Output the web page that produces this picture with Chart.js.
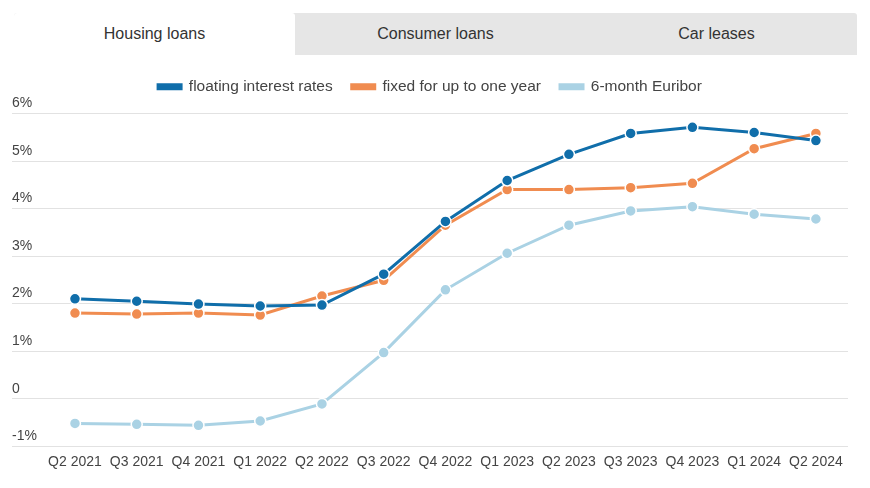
<!DOCTYPE html>
<html>
<head>
<meta charset="utf-8">
<script src="https://cdn.jsdelivr.net/npm/chart.js@4.4.1/dist/chart.umd.min.js"></script>
<style>
    html, body { margin: 0; padding: 0; background: #fff; }
    body { width: 870px; height: 488px; position: relative; overflow: hidden; font-family: "Liberation Sans", Arial, sans-serif; }
    .tabs { position: absolute; left: 14px; top: 13px; width: 843px; height: 42px; background: #e6e6e6; display: flex; z-index: 2; border-radius: 3px 3px 0 0; }
    .tab { width: 281px; line-height: 42px; text-align: center; font-size: 16px; color: #333; }
    .tab.active { background: #fff; border-radius: 3px 3px 0 0; }
    #wrap { position: absolute; left: 0; top: 0; width: 870px; height: 488px; }
</style>
</head>
<body>
<div class="tabs">
    <div class="tab active">Housing loans</div>
    <div class="tab">Consumer loans</div>
    <div class="tab">Car leases</div>
</div>
<div id="wrap"><canvas id="rateChart"></canvas></div>
<script>
// Quarters on the x axis
const quarters = ['Q2 2021', 'Q3 2021', 'Q4 2021', 'Q1 2022', 'Q2 2022', 'Q3 2022', 'Q4 2022',
    'Q1 2023', 'Q2 2023', 'Q3 2023', 'Q4 2023', 'Q1 2024', 'Q2 2024'];

// Interest rates, %
const floatingRates = [2.10, 2.05, 1.99, 1.95, 1.97, 2.62, 3.73, 4.59, 5.14, 5.58, 5.71, 5.60, 5.43];
const fixedOneYear = [1.80, 1.78, 1.80, 1.76, 2.16, 2.49, 3.65, 4.40, 4.40, 4.44, 4.53, 5.26, 5.58];
const euribor6m = [-0.52, -0.54, -0.56, -0.47, -0.11, 0.97, 2.29, 3.06, 3.65, 3.95, 4.04, 3.88, 3.78];

const yTicks = [-1, 0, 1, 2, 3, 4, 5, 6];

const toPoints = vals => vals.map((v, i) => ({ x: i, y: v }));

const lineSet = (label, vals, color) => ({
    label: label,
    data: toPoints(vals),
    borderColor: color,
    backgroundColor: color,
    borderWidth: 3,
    pointRadius: 5.5,
    pointBorderColor: '#fff',
    pointBorderWidth: 1.5,
    pointBackgroundColor: color,
    tension: 0
});

// extra space between legend and plot
const legendGap = {
    id: 'legendGap',
    beforeInit(chart) {
        const fit = chart.legend.fit;
        chart.legend.fit = function () {
            fit.bind(chart.legend)();
            this.height += 9;
        };
    }
};

const canvas = document.getElementById('rateChart');
new Chart(canvas.getContext('2d'), {
    type: 'line',
    data: {
        datasets: [
            lineSet('floating interest rates', floatingRates, '#106eaa'),
            lineSet('fixed for up to one year', fixedOneYear, '#f08c50'),
            lineSet('6-month Euribor', euribor6m, '#aad2e4')
        ]
    },
    plugins: [legendGap],
    options: {
        responsive: true,
        maintainAspectRatio: false,
        animation: false,
        layout: { padding: { left: 12, right: 22, top: 60, bottom: 17 } },
        plugins: {
            tooltip: { enabled: false },
            legend: {
                position: 'top',
                labels: {
                    boxWidth: 23,
                    boxHeight: 4,
                    padding: 19,
                    color: '#444',
                    font: { family: '"Liberation Sans", Arial, sans-serif', size: 15.5 }
                }
            }
        },
        scales: {
            x: {
                type: 'linear',
                min: -1.02,
                max: 12.52,
                grid: { display: false },
                border: { display: false },
                afterBuildTicks: scale => { scale.ticks = quarters.map((q, i) => ({ value: i })); },
                ticks: {
                    autoSkip: false,
                    maxRotation: 0,
                    padding: 0,
                    color: '#444',
                    font: { family: '"Liberation Sans", Arial, sans-serif', size: 14 },
                    callback: v => quarters[v]
                }
            },
            y: {
                min: -1,
                max: 6,
                afterBuildTicks: scale => { scale.ticks = yTicks.map(v => ({ value: v })); },
                grid: { color: '#e2e2e2', lineWidth: 1, drawTicks: false },
                border: { display: false },
                ticks: {
                    mirror: true,
                    padding: 0,
                    labelOffset: -10,
                    color: '#444',
                    font: { family: '"Liberation Sans", Arial, sans-serif', size: 14 },
                    callback: v => v === 0 ? '0' : v + '%'
                }
            }
        }
    }
});
</script>
</body>
</html>
